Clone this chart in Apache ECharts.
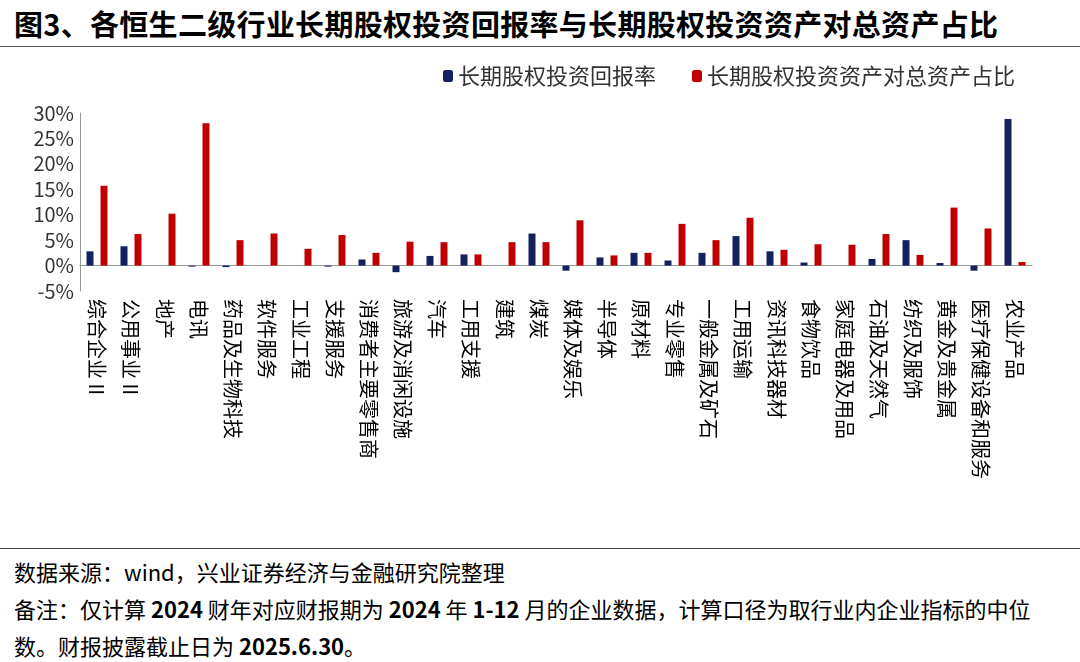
<!DOCTYPE html>
<html><head><meta charset="utf-8">
<script src="https://cdn.jsdelivr.net/npm/echarts@6/dist/echarts.min.js"></script>
<style>
body{margin:0;background:#fff;font-family:"Noto Sans CJK SC",sans-serif}
#title{position:absolute;left:14px;top:2px;font-size:29px;font-weight:bold;color:#000;letter-spacing:0.3px}
#tline{position:absolute;left:0;top:46px;width:1080px;border-top:1px solid #555}
#bline{position:absolute;left:0;top:548px;width:1080px;border-top:1px solid #444}
#note{position:absolute;left:14px;top:553px;font-size:22px;line-height:37px;color:#000;width:1050px}
#c{position:absolute;left:0;top:46px;width:1080px;height:500px}
</style></head><body>
<div id="title">图3、各恒生二级行业长期股权投资回报率与长期股权投资资产对总资产占比</div>
<div id="tline"></div>
<div id="c"></div>
<div id="bline"></div>
<div id="note">数据来源：wind，兴业证券经济与金融研究院整理<br>备注：仅计算 <b>2024</b> 财年对应财报期为 <b>2024</b> 年 <b>1-12</b> 月的企业数据，计算口径为取行业内企业指标的中位数。财报披露截止日为 <b>2025.6.30</b>。</div>
<script>
const categories = ['综合企业 II','公用事业 II','地产','电讯','药品及生物科技','软件服务','工业工程','支援服务','消费者主要零售商','旅游及消闲设施','汽车','工用支援','建筑','煤炭','媒体及娱乐','半导体','原材料','专业零售','一般金属及矿石','工用运输','资讯科技器材','食物饮品','家庭电器及用品','石油及天然气','纺织及服饰','黄金及贵金属','医疗保健设备和服务','农业产品']
const returnRate = [2.8,3.8,0,-0.2,-0.3,0,0,-0.2,1.2,-1.3,1.9,2.2,0,6.3,-1,1.6,2.5,1,2.5,5.8,2.8,0.6,0,1.3,5,0.5,-1,28.8]
const assetShare = [15.7,6.2,10.2,28,5,6.3,3.3,6,2.5,4.7,4.6,2.2,4.6,4.6,8.9,2,2.5,8.2,5,9.4,3.1,4.2,4.1,6.2,2.1,11.4,7.3,0.7]
const chart = echarts.init(document.getElementById('c'))
chart.setOption({
  animation:false,
  textStyle:{fontFamily:'"Noto Sans CJK SC",sans-serif'},
  legend:{top:14,right:60,itemWidth:10,itemHeight:12,itemGap:36,textStyle:{fontSize:22,color:'#333'}},
  grid:{left:80,right:48,top:67,bottom:255},
  xAxis:{type:'category',data:categories,
    axisLine:{onZero:true,lineStyle:{color:'#999'}},axisTick:{show:false},
    axisLabel:{rotate:-90,interval:0,fontSize:20,color:'#000',margin:8,align:'left',verticalAlign:'middle'}},
  yAxis:{type:'value',min:-5,max:30,interval:5,
    axisLine:{show:true,lineStyle:{color:'#999'}},splitLine:{show:false},
    axisLabel:{fontSize:20,color:'#333',formatter:'{value}%',margin:6}},
  series:[
    {name:'长期股权投资回报率',type:'bar',data:returnRate,barWidth:7,barGap:'100%',itemStyle:{color:'#14215e'}},
    {name:'长期股权投资资产对总资产占比',type:'bar',data:assetShare,barWidth:7,itemStyle:{color:'#c00000'}}
  ]
})
</script>
</body></html>
